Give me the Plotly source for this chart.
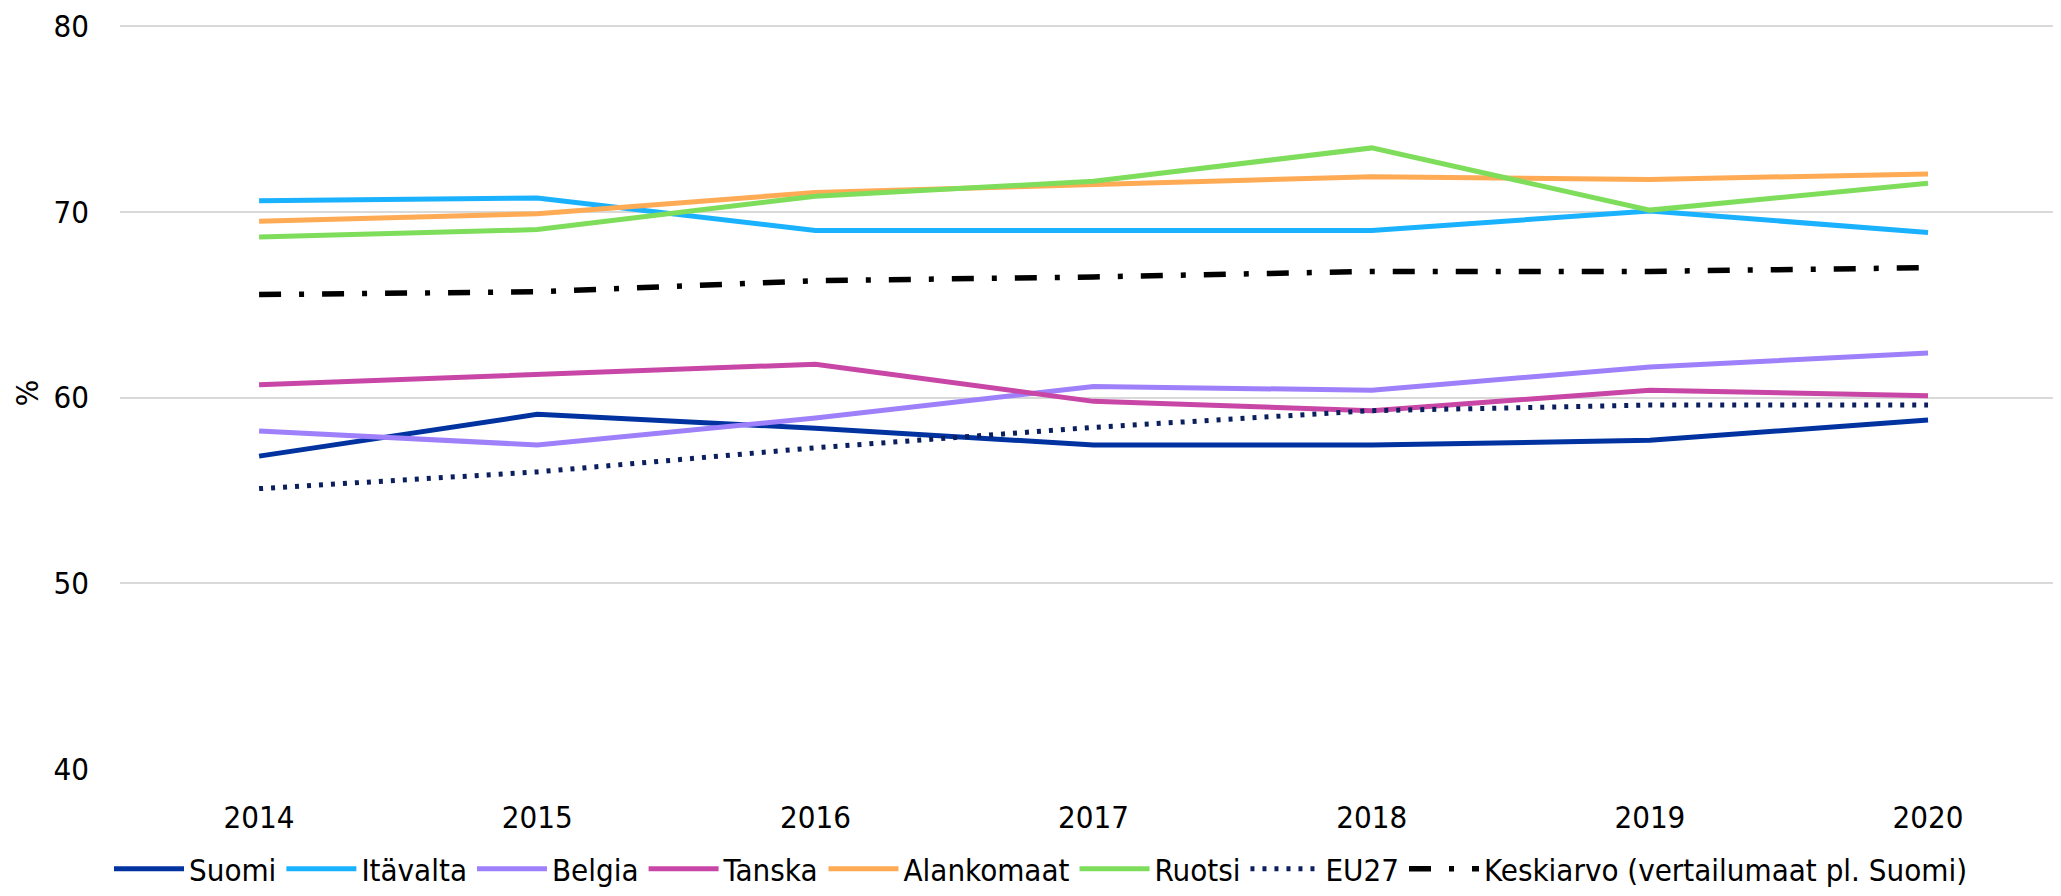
import plotly.graph_objects as go

years = [2014, 2015, 2016, 2017, 2018, 2019, 2020]

suomi = [56.85, 59.1, 58.35, 57.45, 57.45, 57.7, 58.8]
itavalta = [70.6, 70.75, 69.0, 69.0, 69.0, 70.05, 68.9]
belgia = [58.2, 57.45, 58.9, 60.6, 60.4, 61.65, 62.4]
tanska = [60.7, 61.25, 61.8, 59.8, 59.3, 60.4, 60.1]
alankomaat = [69.5, 69.9, 71.05, 71.5, 71.9, 71.75, 72.05]
ruotsi = [68.65, 69.05, 70.85, 71.65, 73.45, 70.1, 71.55]
eu27 = [55.1, 56.0, 57.3, 58.4, 59.3, 59.6, 59.6]
keskiarvo = [65.55, 65.7, 66.3, 66.5, 66.8, 66.8, 67.0]

series = [
    ("Suomi", suomi, "#0032A0", "solid", 5),
    ("Itävalta", itavalta, "#1AB2FF", "solid", 5),
    ("Belgia", belgia, "#9F80FB", "solid", 5),
    ("Tanska", tanska, "#C846A6", "solid", 5),
    ("Alankomaat", alankomaat, "#FFAA55", "solid", 5),
    ("Ruotsi", ruotsi, "#7FDD5C", "solid", 5),
    ("EU27", eu27, "#0B1F5E", "4px,8px", 5),
    ("Keskiarvo (vertailumaat pl. Suomi)", keskiarvo, "#000000", "22px,18px,5px,18px", 5.5),
]

FONT = "DejaVu Sans Condensed, DejaVu Sans, sans-serif"
FS = 31

fig = go.Figure()
for name, vals, color, dash, w in series:
    fig.add_trace(go.Scatter(
        x=years, y=vals, name=name, mode="lines",
        line=dict(color=color, width=w, dash=dash),
    ))

fig.update_layout(
    width=2053, height=888,
    margin=dict(l=112, r=0, t=7, b=123),
    paper_bgcolor="white", plot_bgcolor="white",
    font=dict(family=FONT, size=FS, color="#000000"),
    showlegend=True,
    legend=dict(
        orientation="h", x=0.4745, xanchor="center", y=-0.1332, yanchor="middle",
        font=dict(family=FONT, size=FS, color="#000000"),
        itemwidth=70, traceorder="normal", bgcolor="rgba(0,0,0,0)",
    ),
    xaxis=dict(
        range=[2013.5, 2020.478], tickvals=years, ticktext=[str(y) for y in years],
        showgrid=False, zeroline=False, showline=False, ticks="",
        ticklabelstandoff=27, ticklabeloverflow="allow",
    ),
    yaxis=dict(
        range=[40, 80.5], tickvals=[40, 50, 60, 70, 80],
        showgrid=True, gridcolor="#D9D9D9", gridwidth=2,
        zeroline=False, showline=False, ticks="",
        ticklabelstandoff=30, ticklabeloverflow="allow",
        title=dict(text="%", standoff=5, font=dict(family=FONT, size=FS)),
    ),
)

fig.write_html("out.html")
